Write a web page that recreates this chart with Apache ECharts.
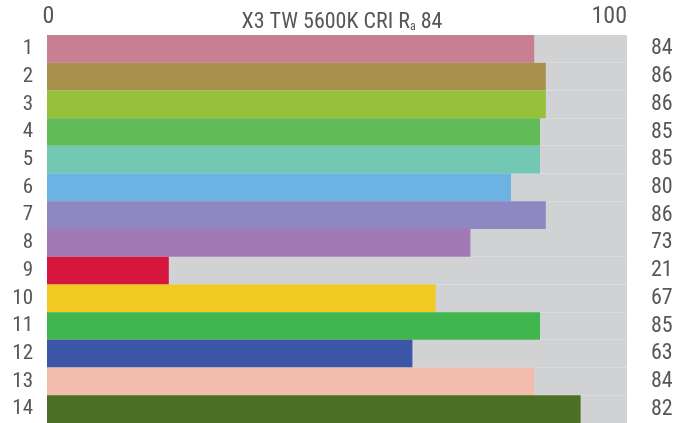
<!DOCTYPE html>
<html><head><meta charset="utf-8">
<script src="https://cdn.jsdelivr.net/npm/echarts@6/dist/echarts.min.js"></script>
<style>html,body{margin:0;padding:0;background:#fff}#c{width:687px;height:423px}</style>
</head><body><div id="c"></div>
<script>
const categories = ['1','2','3','4','5','6','7','8','9','10','11','12','13','14'];
const values = [84, 86, 86, 85, 85, 80, 86, 73, 21, 67, 85, 63, 84, 92];
const valueLabels = ['84','86','86','85','85','80','86','73','21','67','85','63','84','82'];
const colors = ['#C97F92','#A9924B','#95C23A','#62BB57','#73C8B4','#6AB3E3','#8E87C1','#A17AB5','#D6163C','#F0CA22','#41B64E','#3B56A6','#F2BDAD','#4C7023'];
const axisTicks = [0, 100];
const titleText = 'X3 TW 5600K CRI R{sub|a} 84';

// pick a condensed font if one is available
const cv = document.createElement('canvas').getContext('2d');
function tw(font, s) { cv.font = font; return cv.measureText(s).width; }
const sample = 'X3 TW 5600K CRI 84 0123456789';
let FONT = 'Roboto', STRETCH = 'normal', found = false;
const baseMono = tw('22px monospace', sample);
for (const fam of ['Roboto Condensed', 'Liberation Sans Narrow', 'DejaVu Sans Condensed', 'Arial Narrow']) {
  if (Math.abs(tw('22px "' + fam + '", monospace', sample) - baseMono) > 0.5) { FONT = '"' + fam + '"'; found = true; break; }
}
if (!found) {
  for (const fam of ['Roboto', 'DejaVu Sans', 'Liberation Sans', 'Open Sans', 'Noto Sans']) {
    const n = tw('22px "' + fam + '"', sample);
    const c = tw('normal condensed 22px "' + fam + '"', sample);
    if (c < n * 0.95) { FONT = '"' + fam + '"'; STRETCH = 'condensed'; found = true; break; }
  }
}
const refW = tw('normal ' + (STRETCH === 'condensed' ? 'condensed ' : '') + '22px ' + FONT, '5600K CRI 84');
const k = found ? 1 : Math.min(1, 22 * 0.455 * 12 / refW * 0.98);
const fs = (n) => Math.round(n * (found ? 1 : Math.max(k, 0.82)));

const TXT = '#575757';
const ts = (size) => ({ fontFamily: FONT, fontSize: fs(size), fontWeight: STRETCH === 'condensed' ? 'condensed' : 'normal', color: TXT });

const chart = echarts.init(document.getElementById('c'), null, {renderer: 'canvas'});
chart.setOption({
  animation: false,
  title: {
    text: titleText,
    left: 337, top: 6, textAlign: 'center',
    textStyle: Object.assign(ts(22), {
      rich: { sub: Object.assign(ts(12), { verticalAlign: 'bottom' }) }
    })
  },
  grid: { left: 47, right: 60, top: 35, bottom: 0 },
  xAxis: {
    type: 'value', position: 'top', min: axisTicks[0], max: axisTicks[1], interval: 100,
    splitLine: { show: false }, axisLine: { show: false }, axisTick: { show: false },
    axisLabel: Object.assign(ts(24), { margin: 6, alignMaxLabel: 'right', padding: [0, 0, 0, 3] })
  },
  yAxis: [{
    type: 'category', data: categories, inverse: true,
    axisLine: { show: false }, axisTick: { show: false },
    axisLabel: Object.assign(ts(21), { margin: 14, interval: 0 })
  }, {
    type: 'category', data: valueLabels, inverse: true, position: 'right',
    axisLine: { show: false }, axisTick: { show: false },
    axisLabel: Object.assign(ts(22), { margin: 24, align: 'left', interval: 0 })
  }],
  series: [{
    type: 'bar', yAxisIndex: 0, barWidth: '100%',
    showBackground: true, backgroundStyle: { color: '#D1D2D4' },
    data: values.map((v, i) => ({ value: v, itemStyle: { color: colors[i] } }))
  }]
});
</script></body></html>
